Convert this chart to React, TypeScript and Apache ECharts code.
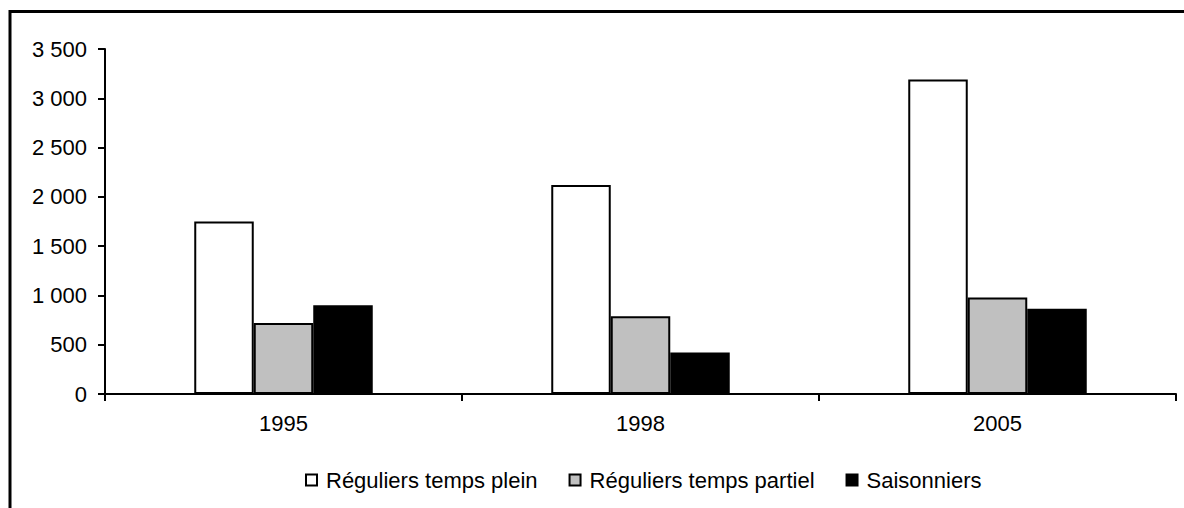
import React, { useEffect, useRef } from "react";
import * as echarts from "echarts";

const categories = ["1995", "1998", "2005"];
const seriesNames = ["Réguliers temps plein", "Réguliers temps partiel", "Saisonniers"];
const pleinValues = [1750, 2120, 3190];
const partielValues = [720, 790, 980];
const saisonValues = [900, 420, 865];
const seriesColors = ["#ffffff", "#c0c0c0", "#000000"];

const FONT = "'Liberation Sans', Arial, sans-serif";

export default function App() {
  const ref = useRef<HTMLDivElement>(null);
  useEffect(() => {
    if (!ref.current) return;
    const chart = echarts.init(ref.current, undefined, { renderer: "svg" });
    const values = [pleinValues, partielValues, saisonValues];
    chart.setOption({
      animation: false,
      backgroundColor: "#ffffff",
      textStyle: { fontFamily: FONT },
      graphic: [
        {
          type: "rect",
          shape: { x: 10, y: 11.5, width: 1400, height: 700 },
          style: { fill: "none", stroke: "#000", lineWidth: 3 },
          silent: true,
        },
      ],
      grid: { left: 105, right: 8, top: 49, bottom: 114, containLabel: false },
      legend: {
        left: 300,
        top: 464,
        itemWidth: 11,
        itemHeight: 11,
        itemGap: 31,
        icon: "rect",
        textStyle: {
          fontFamily: FONT,
          fontSize: 22,
          color: "#000",
          padding: [0, 0, 0, 4],
        },
        data: seriesNames.map((n, i) => ({
          name: n,
          itemStyle: { color: seriesColors[i], borderColor: "#000", borderWidth: 2 },
        })),
      },
      xAxis: {
        type: "category",
        data: categories,
        axisLine: { lineStyle: { color: "#000", width: 2 } },
        axisTick: { show: true, length: 7, lineStyle: { color: "#000", width: 2 } },
        axisLabel: { color: "#000", fontSize: 22, margin: 18, fontFamily: FONT },
      },
      yAxis: {
        type: "value",
        min: 0,
        max: 3500,
        interval: 500,
        splitLine: { show: false },
        axisLine: { show: true, lineStyle: { color: "#000", width: 2 } },
        axisTick: { show: true, length: 7, lineStyle: { color: "#000", width: 2 } },
        axisLabel: {
          color: "#000",
          fontSize: 22,
          margin: 18,
          fontFamily: FONT,
          formatter: (v: number) => {
            const s = String(v);
            return s.length > 3 ? s.slice(0, s.length - 3) + " " + s.slice(-3) : s;
          },
        },
      },
      series: seriesNames.map((n, i) => ({
        name: n,
        type: "bar",
        data: values[i],
        barGap: "0%",
        barCategoryGap: "50%",
        itemStyle: { color: seriesColors[i], borderColor: "#000", borderWidth: 2 },
      })),
    });
    return () => chart.dispose();
  }, []);
  return (
    <div
      ref={ref}
      style={{ position: "absolute", left: 0, top: 0, width: 1184, height: 508 }}
    />
  );
}
